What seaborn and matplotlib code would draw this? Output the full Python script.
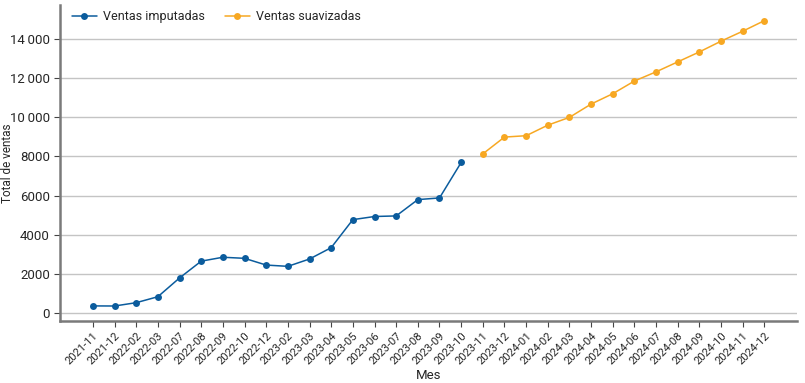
import pandas as pd
import numpy as np
import seaborn as sns
import matplotlib.pyplot as plt
from matplotlib.ticker import FuncFormatter

# monthly series
meses_imp = ["2021-11", "2021-12", "2022-02", "2022-03", "2022-07", "2022-08",
             "2022-09", "2022-10", "2022-12", "2023-02", "2023-03", "2023-04",
             "2023-05", "2023-06", "2023-07", "2023-08", "2023-09", "2023-10"]
ventas_imp = [350, 345, 515, 820, 1780, 2640, 2840, 2785, 2440, 2375, 2750, 3330,
              4765, 4925, 4955, 5790, 5875, 7690]

meses_suav = ["2023-11", "2023-12", "2024-01", "2024-02", "2024-03", "2024-04",
              "2024-05", "2024-06", "2024-07", "2024-08", "2024-09", "2024-10",
              "2024-11", "2024-12"]
ventas_suav = [8130, 8990, 9060, 9600, 10000, 10680, 11210, 11860, 12330,
               12840, 13350, 13900, 14410, 14950]

meses = meses_imp + meses_suav
df = pd.DataFrame({
    "Mes": meses,
    "pos": np.arange(len(meses)),
    "Total de ventas": ventas_imp + ventas_suav,
    "serie": ["Ventas imputadas"] * len(meses_imp) + ["Ventas suavizadas"] * len(meses_suav),
})

sns.set_style("white")
plt.rcParams['font.family'] = ['Roboto', 'DejaVu Sans']

fig, ax = plt.subplots(figsize=(8.05, 3.83), dpi=100)
sns.lineplot(data=df, x="pos", y="Total de ventas", hue="serie",
             palette={"Ventas imputadas": "#0b5c9d", "Ventas suavizadas": "#f7a823"},
             marker="o", markersize=5, markeredgewidth=0, linewidth=1.1, ax=ax)

ax.set_xlim(-1.5, len(meses) + 0.5)
ax.set_ylim(-420, 15750)
ax.set_xticks(df["pos"])
ax.set_xticklabels(meses, rotation=45, ha="right", rotation_mode="anchor", fontsize=8)
ax.set_yticks(range(0, 14001, 2000))


def fmt(v, _):
    v = int(v)
    if abs(v) >= 10000:
        return f"{v:,}".replace(",", "\u2009")
    return str(v)


ax.yaxis.set_major_formatter(FuncFormatter(fmt))
ax.tick_params(axis="y", labelsize=9.5, length=4, color="#444444", direction="out", left=True)
ax.tick_params(axis="x", length=4, color="#444444", direction="out", bottom=True, pad=3)
ax.grid(axis="y", color="#c4c4c4", linewidth=1)
ax.set_axisbelow(True)

for s in ["top", "right"]:
    ax.spines[s].set_visible(False)
for s in ["left", "bottom"]:
    ax.spines[s].set_color("#7a7a7a")
    ax.spines[s].set_linewidth(1.8)

ax.set_xlabel("Mes", fontsize=9.5, labelpad=2)
ax.set_ylabel("Total de ventas", fontsize=8.5)
ax.yaxis.set_label_coords(-0.063, 0.5)
ax.legend(title=None, frameon=False, ncol=2, loc="upper left", fontsize=9,
          bbox_to_anchor=(0.0, 1.02), handlelength=2.0, columnspacing=1.6,
          handletextpad=0.5)

plt.subplots_adjust(left=0.075, right=0.99, top=0.987, bottom=0.162)
plt.savefig("out.png", dpi=100)
plt.close()
